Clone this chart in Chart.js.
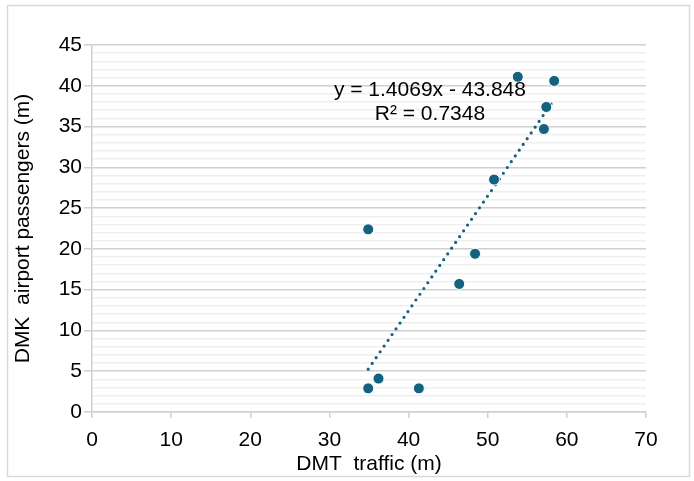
<!DOCTYPE html>
<html>
<head>
<meta charset="utf-8">
<script src="https://cdn.jsdelivr.net/npm/chart.js@4"></script>
<style>
html,body{margin:0;padding:0;background:#fff;}
#wrap{width:694px;height:481px;}
</style>
</head>
<body>
<div id="wrap"><canvas id="c" width="694" height="481"></canvas></div>
<script>
// Data
const dmtTraffic = [53.8, 58.4, 57.4, 57.1, 50.8, 34.9, 48.4, 46.4, 36.2, 34.9, 41.3];
const dmkPassengers = [41.1, 40.6, 37.4, 34.7, 28.5, 22.4, 19.4, 15.7, 4.1, 2.9, 2.9];
const trendSlope = [1.4069];
const trendIntercept = [-43.848];
const equationLines = ['y = 1.4069x - 43.848', 'R\u00b2 = 0.7348'];
const xTicks = [0, 10, 20, 30, 40, 50, 60, 70];
const yTicks = [0, 5, 10, 15, 20, 25, 30, 35, 40, 45];
const xTitle = 'DMT  traffic (m)';
const yTitle = 'DMK  airport passengers (m)';

const COLOR = '#14627f';
const FONT = 'Liberation Sans, Arial, sans-serif';
const FS = 21;

const points = dmtTraffic.map((x, i) => ({x: x, y: dmkPassengers[i]}));
const xMin = Math.min(...dmtTraffic), xMax = Math.max(...dmtTraffic);
const trend = [xMin, xMax].map(x => ({x: x, y: trendSlope[0] * x + trendIntercept[0]}));

const frame = {
  id: 'frame',
  beforeDraw(chart) {
    const ctx = chart.ctx;
    ctx.save();
    ctx.fillStyle = '#fff';
    ctx.fillRect(0, 0, chart.width, chart.height);
    ctx.strokeStyle = '#d9d9d9';
    ctx.lineWidth = 1.5;
    ctx.strokeRect(7.5, 5.5, 682, 471);
    ctx.restore();
  },
  afterDatasetsDraw(chart) {
    const ctx = chart.ctx;
    const xs = chart.scales.x, ys = chart.scales.y;
    const cx = xs.getPixelForValue(42.7);
    ctx.save();
    ctx.fillStyle = '#000';
    ctx.font = FS + 'px ' + FONT;
    ctx.textAlign = 'center';
    ctx.textBaseline = 'middle';
    ctx.fillText(equationLines[0], cx, ys.getPixelForValue(39.4));
    ctx.fillText(equationLines[1], cx, ys.getPixelForValue(36.5));
    ctx.restore();
  }
};

new Chart(document.getElementById('c'), {
  data: {
    datasets: [
      {
        type: 'scatter',
        data: points,
        backgroundColor: COLOR,
        borderColor: '#ffffff',
        borderWidth: 1,
        pointRadius: 5.5,
        order: 0
      },
      {
        type: 'line',
        data: trend,
        borderColor: COLOR,
        borderWidth: 3.2,
        borderDash: [0, 7],
        borderCapStyle: 'round',
        pointRadius: 0,
        fill: false,
        order: 1
      }
    ]
  },
  options: {
    responsive: false,
    animation: false,
    events: [],
    layout: {padding: {left: 10, right: 48, top: 45, bottom: 4}},
    plugins: {legend: {display: false}, tooltip: {enabled: false}},
    scales: {
      x: {
        type: 'linear',
        min: 0, max: 70,
        afterFit(s) { s.height = 65; },
        afterBuildTicks(s) { s.ticks = xTicks.map(v => ({value: v})); },
        ticks: {stepSize: 10, color: '#000', font: {family: FONT, size: FS}, padding: 10, maxRotation: 0},
        grid: {drawOnChartArea: false, drawTicks: true, tickLength: 6, tickColor: '#d0d0d0', lineWidth: 1.5},
        border: {color: '#d0d0d0', width: 1.5},
        title: {display: true, text: xTitle, color: '#000', font: {family: FONT, size: FS}, padding: {top: 0, bottom: 0}}
      },
      y: {
        type: 'linear',
        min: 0, max: 45,
        afterFit(s) { s.width = 82; },
        ticks: {
          stepSize: 1, autoSkip: false, color: '#000', font: {family: FONT, size: FS}, padding: 2,
          callback: v => yTicks.includes(v) ? String(v) : ''
        },
        grid: {
          drawTicks: true, tickLength: 8,
          color: c => (c.tick && yTicks.includes(c.tick.value)) ? '#d0d0d0' : '#efefef',
          tickColor: c => (c.tick && yTicks.includes(c.tick.value)) ? '#d0d0d0' : 'rgba(0,0,0,0)',
          lineWidth: 1.5
        },
        border: {color: '#d0d0d0', width: 1.5},
        title: {display: true, text: yTitle, color: '#000', font: {family: FONT, size: FS}, padding: {top: 0.5, bottom: 0}}
      }
    }
  },
  plugins: [frame]
});
</script>
</body>
</html>
